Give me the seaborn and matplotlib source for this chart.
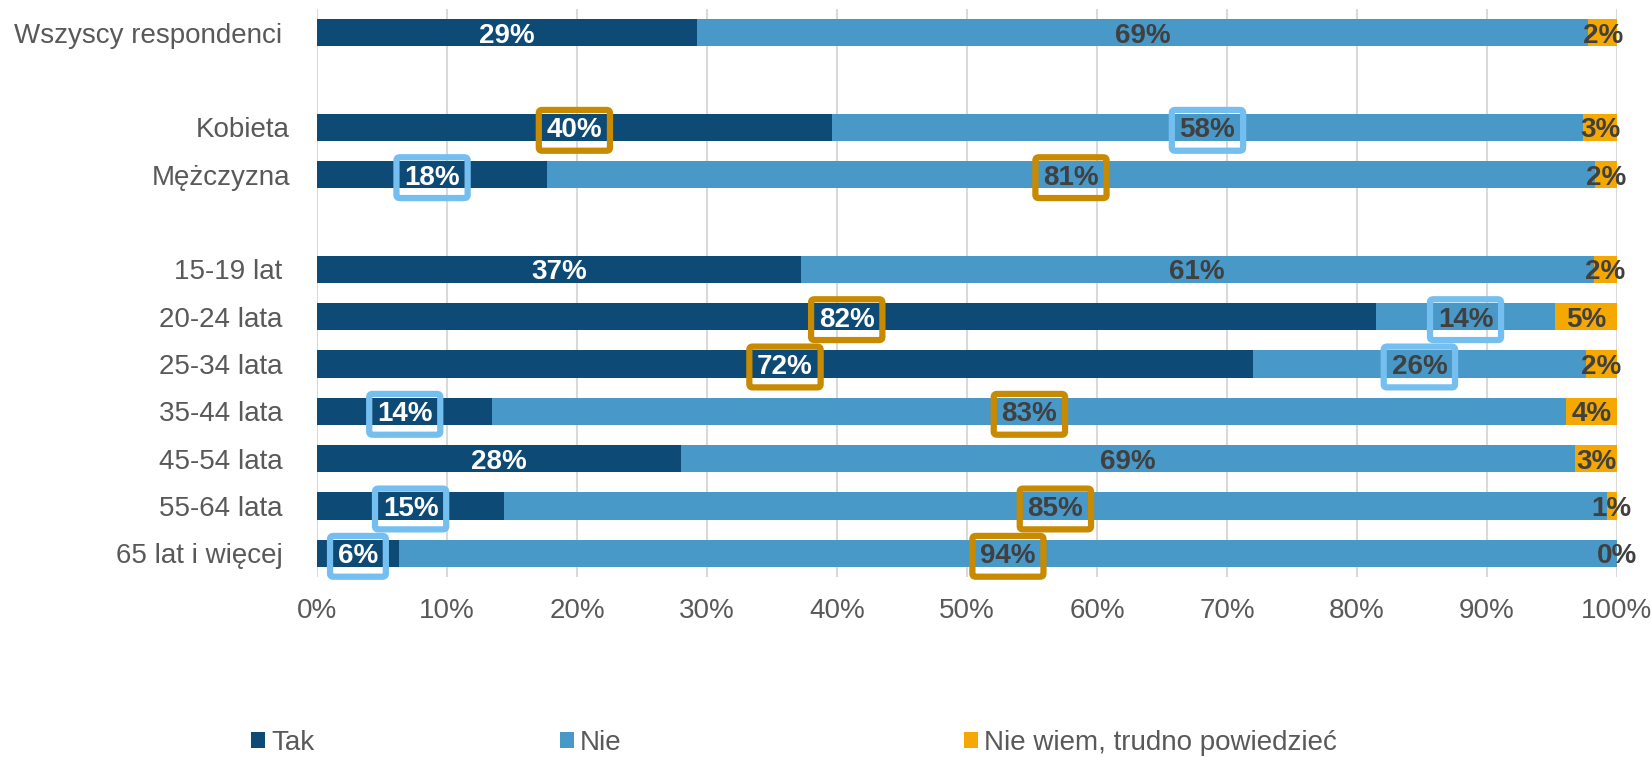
import pandas as pd
import seaborn as sns
import matplotlib.pyplot as plt
from matplotlib.patches import Patch

sns.set_style("white")
plt.rcParams['font.family'] = ['Liberation Sans', 'DejaVu Sans']

# ======================
# data

# row order on the axis, blank entries are the gaps between groups
rows = ["Wszyscy respondenci ", "", "Kobieta", "Mężczyzna", " ",
        "15-19 lat ", "20-24 lata ", "25-34 lata ", "35-44 lata ",
        "45-54 lata ", "55-64 lata ", "65 lat i więcej "]

groups = ["Wszyscy respondenci ", "Kobieta", "Mężczyzna",
          "15-19 lat ", "20-24 lata ", "25-34 lata ", "35-44 lata ",
          "45-54 lata ", "55-64 lata ", "65 lat i więcej "]

tak = [29.2, 39.6, 17.7, 37.2, 81.5, 72.0, 13.5, 28.0, 14.4, 6.3]
nie = [68.6, 57.8, 80.6, 61.0, 13.7, 25.6, 82.6, 68.8, 84.8, 93.7]
nie_wiem = [2.2, 2.6, 1.7, 1.8, 4.8, 2.4, 3.9, 3.2, 0.8, 0.0]

# percentages as printed on the bars
tak_lbl = [29, 40, 18, 37, 82, 72, 14, 28, 15, 6]
nie_lbl = [69, 58, 81, 61, 14, 26, 83, 69, 85, 94]
nie_wiem_lbl = [2, 3, 2, 2, 5, 2, 4, 3, 1, 0]

# highlighted cells: 'hi' = gold frame, 'lo' = light blue frame
tak_mark = ["", "hi", "lo", "", "hi", "hi", "lo", "", "lo", "lo"]
nie_mark = ["", "lo", "hi", "", "lo", "lo", "hi", "", "hi", "hi"]

series_names = ["Tak", "Nie", "Nie wiem, trudno powiedzieć"]

c_tak = "#0D4A75"
c_nie = "#4898C8"
c_nw = "#F5A800"
c_hi = "#C88A00"
c_lo = "#74BEF0"
c_text = "#595959"
c_dark = "#404040"

df = pd.DataFrame({"group": groups, "tak": tak, "nie": nie, "nw": nie_wiem})
df["cum_nie"] = df["tak"] + df["nie"]
df["cum_nw"] = df["cum_nie"] + df["nw"]

# ======================
# plot

fig = plt.figure(figsize=(16.51, 7.57), dpi=100)
ax = fig.add_axes([0.192, 0.2378, 0.7874, 0.7503])

bar_kw = dict(orient="h", order=rows, width=0.58, saturation=1,
              errorbar=None, linewidth=0, ax=ax)
sns.barplot(data=df, x="cum_nw", y="group", color=c_nw, **bar_kw)
sns.barplot(data=df, x="cum_nie", y="group", color=c_nie, **bar_kw)
sns.barplot(data=df, x="tak", y="group", color=c_tak, **bar_kw)

ax.set_xlim(0, 100)
ax.set_ylim(len(rows) - 0.5, -0.5)
ax.set_xticks(range(0, 101, 10))
ax.set_xticklabels([f"{v}%" for v in range(0, 101, 10)])
ax.set_xlabel("")
ax.set_ylabel("")
ax.tick_params(axis="x", length=0, pad=15, labelsize=20, labelcolor=c_text)
ax.tick_params(axis="y", length=0, pad=19.4, labelsize=20, labelcolor=c_text)
ax.grid(axis="x", color="#D9D9D9", linewidth=1.5)
ax.grid(axis="y", visible=False)
ax.set_axisbelow(True)
sns.despine(ax=ax, left=True, bottom=True)


def put_label(x, y, text, color, mark):
    box = None
    if mark:
        box = dict(boxstyle="round,pad=0.28,rounding_size=0.12", fc="none",
                   ec=c_hi if mark == "hi" else c_lo, lw=4.5,
                   mutation_aspect=0.95)
    ax.text(x, y, text, ha="center", va="center_baseline", fontsize=20,
            fontweight="bold", color=color, bbox=box, zorder=5)


for i, g in enumerate(groups):
    y = rows.index(g)
    put_label(tak[i] / 2, y, f"{tak_lbl[i]}%", "white", tak_mark[i])
    put_label(tak[i] + nie[i] / 2, y, f"{nie_lbl[i]}%", c_dark, nie_mark[i])
    put_label(tak[i] + nie[i] + nie_wiem[i] / 2, y, f"{nie_wiem_lbl[i]}%", c_dark, "")

# legend - three entries spread along the bottom like the original
leg_x = [0.152, 0.339, 0.584]
for name, col, lx in zip(series_names, [c_tak, c_nie, c_nw], leg_x):
    fig.legend(handles=[Patch(facecolor=col, edgecolor="none", label=name)],
               loc="center left", bbox_to_anchor=(lx, 0.0185), frameon=False,
               borderpad=0, borderaxespad=0, handlelength=0.5, handleheight=0.5,
               handletextpad=0.22, fontsize=20, labelcolor=c_text)

plt.savefig("out.png", dpi=100)
plt.close()
